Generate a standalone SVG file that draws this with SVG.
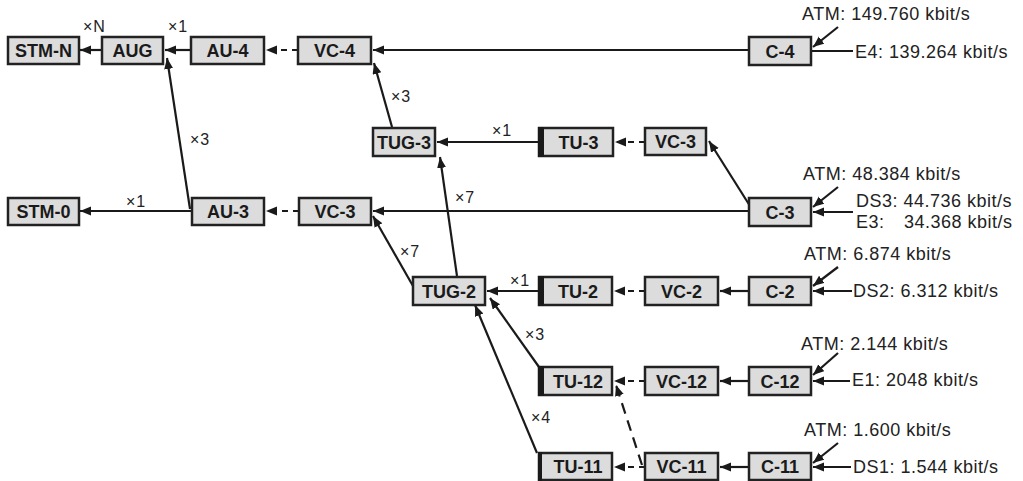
<svg xmlns="http://www.w3.org/2000/svg" width="1023" height="481" viewBox="0 0 1023 481">
<style>
.box{fill:#dcdcdc;stroke:#222;stroke-width:2.5}
.bar{fill:#1a1a1a}
.nt{font-family:"Liberation Sans",Arial,sans-serif;font-weight:bold;font-size:18px;fill:#1a1a1a;text-anchor:middle}
.mt{font-family:"Liberation Sans",Arial,sans-serif;font-size:16px;fill:#222;letter-spacing:1px}
.rt{font-family:"Liberation Sans",Arial,sans-serif;font-size:18px;fill:#222;letter-spacing:0.5px}
.c{stroke:#1a1a1a;stroke-width:2.2;fill:none}
.d{stroke-dasharray:6 5}
.dl{stroke-dasharray:11 7}
</style>
<defs>
<marker id="ah" markerUnits="userSpaceOnUse" markerWidth="12" markerHeight="10" refX="11" refY="4.5" orient="auto">
<path d="M0,0 L11,4.5 L0,9 z" fill="#1a1a1a"/>
</marker>
</defs>

<g id="connectors">
<line class="c" x1="102" y1="50" x2="80" y2="50" marker-end="url(#ah)"/>
<line class="c" x1="191" y1="50" x2="165" y2="50" marker-end="url(#ah)"/>
<line class="c d" x1="298" y1="50" x2="266" y2="50" marker-end="url(#ah)"/>
<line class="c" x1="749" y1="50" x2="373" y2="50" marker-end="url(#ah)"/>
<line class="c" x1="853" y1="51" x2="811" y2="51"/>
<line class="c" x1="838" y1="27" x2="813" y2="47" marker-end="url(#ah)"/>

<line class="c" x1="392" y1="127" x2="374" y2="63" marker-end="url(#ah)"/>
<line class="c" x1="539" y1="142" x2="437" y2="142" marker-end="url(#ah)"/>
<line class="c d" x1="645" y1="142" x2="615" y2="142" marker-end="url(#ah)"/>
<line class="c" x1="750" y1="206" x2="709" y2="141" marker-end="url(#ah)"/>

<line class="c" x1="190" y1="209" x2="167" y2="58" marker-end="url(#ah)"/>
<line class="c" x1="192" y1="211" x2="80" y2="211" marker-end="url(#ah)"/>
<line class="c d" x1="299" y1="211" x2="266" y2="211" marker-end="url(#ah)"/>
<line class="c" x1="749" y1="211" x2="373" y2="211" marker-end="url(#ah)"/>
<line class="c" x1="853" y1="212" x2="813" y2="212" marker-end="url(#ah)"/>
<line class="c" x1="838" y1="187" x2="813" y2="207" marker-end="url(#ah)"/>

<line class="c" x1="457" y1="276" x2="440" y2="157" marker-end="url(#ah)"/>
<line class="c" x1="413" y1="286" x2="373" y2="216" marker-end="url(#ah)"/>
<line class="c" x1="539" y1="291" x2="487" y2="291" marker-end="url(#ah)"/>
<line class="c d" x1="645" y1="291" x2="614" y2="291" marker-end="url(#ah)"/>
<line class="c" x1="749" y1="291" x2="720" y2="291" marker-end="url(#ah)"/>
<line class="c" x1="852" y1="291" x2="813" y2="291" marker-end="url(#ah)"/>
<line class="c" x1="838" y1="267" x2="813" y2="286" marker-end="url(#ah)"/>

<line class="c" x1="539" y1="367" x2="490" y2="298" marker-end="url(#ah)"/>
<line class="c" x1="537" y1="453" x2="475" y2="305" marker-end="url(#ah)"/>
<line class="c d" x1="645" y1="381" x2="614" y2="381" marker-end="url(#ah)"/>
<line class="c" x1="749" y1="381" x2="720" y2="381" marker-end="url(#ah)"/>
<line class="c" x1="850" y1="381" x2="813" y2="381" marker-end="url(#ah)"/>
<line class="c" x1="838" y1="353" x2="813" y2="375" marker-end="url(#ah)"/>

<line class="c d" x1="645" y1="467" x2="614" y2="467" marker-end="url(#ah)"/>
<line class="c" x1="749" y1="467" x2="720" y2="467" marker-end="url(#ah)"/>
<line class="c" x1="851" y1="467" x2="813" y2="467" marker-end="url(#ah)"/>
<line class="c" x1="838" y1="443" x2="813" y2="463" marker-end="url(#ah)"/>
<line class="c dl" x1="642" y1="465" x2="616" y2="385" marker-end="url(#ah)"/>
</g>

<g id="n-stmn"><rect class="box" x="8" y="37" width="71" height="27"/><text class="nt" x="43.5" y="57">STM-N</text></g>
<g id="n-aug"><rect class="box" x="102" y="37" width="61" height="27"/><text class="nt" x="132.5" y="57">AUG</text></g>
<g id="n-au4"><rect class="box" x="191" y="37" width="73" height="27"/><text class="nt" x="227.5" y="57">AU-4</text></g>
<g id="n-vc4"><rect class="box" x="298" y="37" width="73" height="27"/><text class="nt" x="334.5" y="57">VC-4</text></g>
<g id="n-c4"><rect class="box" x="749" y="37" width="62" height="28"/><text class="nt" x="780" y="57.5">C-4</text></g>

<g id="n-tug3"><rect class="box" x="373" y="128" width="62" height="28"/><text class="nt" x="404" y="148.5">TUG-3</text></g>
<g id="n-tu3"><rect class="box" x="539" y="128" width="74" height="28"/><rect class="bar" x="538" y="127" width="6" height="30"/><text class="nt" x="578.5" y="148.5">TU-3</text></g>
<g id="n-vc3a"><rect class="box" x="645" y="128" width="61" height="27"/><text class="nt" x="675.5" y="148">VC-3</text></g>

<g id="n-stm0"><rect class="box" x="8" y="198" width="71" height="27"/><text class="nt" x="43.5" y="218">STM-0</text></g>
<g id="n-au3"><rect class="box" x="192" y="198" width="72" height="27"/><text class="nt" x="228" y="218">AU-3</text></g>
<g id="n-vc3b"><rect class="box" x="299" y="198" width="72" height="27"/><text class="nt" x="335" y="218">VC-3</text></g>
<g id="n-c3"><rect class="box" x="749" y="198" width="62" height="28"/><text class="nt" x="780" y="218.5">C-3</text></g>

<g id="n-tug2"><rect class="box" x="413" y="277" width="72" height="28"/><text class="nt" x="449" y="297.5">TUG-2</text></g>
<g id="n-tu2"><rect class="box" x="539" y="277" width="73" height="28"/><rect class="bar" x="538" y="276" width="6" height="30"/><text class="nt" x="578" y="297.5">TU-2</text></g>
<g id="n-vc2"><rect class="box" x="645" y="277" width="73" height="28"/><text class="nt" x="681.5" y="297.5">VC-2</text></g>
<g id="n-c2"><rect class="box" x="749" y="277" width="62" height="28"/><text class="nt" x="780" y="297.5">C-2</text></g>

<g id="n-tu12"><rect class="box" x="539" y="367" width="73" height="28"/><rect class="bar" x="538" y="366" width="6" height="30"/><text class="nt" x="578" y="387.5">TU-12</text></g>
<g id="n-vc12"><rect class="box" x="645" y="367" width="73" height="28"/><text class="nt" x="681.5" y="387.5">VC-12</text></g>
<g id="n-c12"><rect class="box" x="749" y="367" width="62" height="28"/><text class="nt" x="780" y="387.5">C-12</text></g>

<g id="n-tu11"><rect class="box" x="539" y="453" width="73" height="27"/><rect class="bar" x="538" y="452" width="4" height="29"/><text class="nt" x="578" y="473">TU-11</text></g>
<g id="n-vc11"><rect class="box" x="645" y="453" width="73" height="27"/><text class="nt" x="681.5" y="473">VC-11</text></g>
<g id="n-c11"><rect class="box" x="749" y="453" width="62" height="27"/><text class="nt" x="780" y="473">C-11</text></g>

<g id="multipliers">
<text class="mt" x="83" y="32">×N</text>
<text class="mt" x="168" y="32">×1</text>
<text class="mt" x="190" y="145">×3</text>
<text class="mt" x="126" y="207">×1</text>
<text class="mt" x="391" y="102">×3</text>
<text class="mt" x="492" y="136">×1</text>
<text class="mt" x="455" y="203">×7</text>
<text class="mt" x="400" y="257">×7</text>
<text class="mt" x="510" y="286">×1</text>
<text class="mt" x="525" y="340">×3</text>
<text class="mt" x="531" y="423">×4</text>
</g>

<g id="rates">
<text class="rt" x="802" y="20">ATM: 149.760 kbit/s</text>
<text class="rt" x="855" y="58">E4: 139.264 kbit/s</text>
<text class="rt" x="803" y="180">ATM: 48.384 kbit/s</text>
<text class="rt" x="856" y="207">DS3: 44.736 kbit/s</text>
<text class="rt" x="856" y="228">E3: <tspan x="904">34.368 kbit/s</tspan></text>
<text class="rt" x="804" y="260">ATM: 6.874 kbit/s</text>
<text class="rt" x="853" y="297">DS2: 6.312 kbit/s</text>
<text class="rt" x="801" y="350">ATM: 2.144 kbit/s</text>
<text class="rt" x="852" y="386">E1: 2048 kbit/s</text>
<text class="rt" x="804" y="436">ATM: 1.600 kbit/s</text>
<text class="rt" x="853" y="473">DS1: 1.544 kbit/s</text>
</g>
</svg>
